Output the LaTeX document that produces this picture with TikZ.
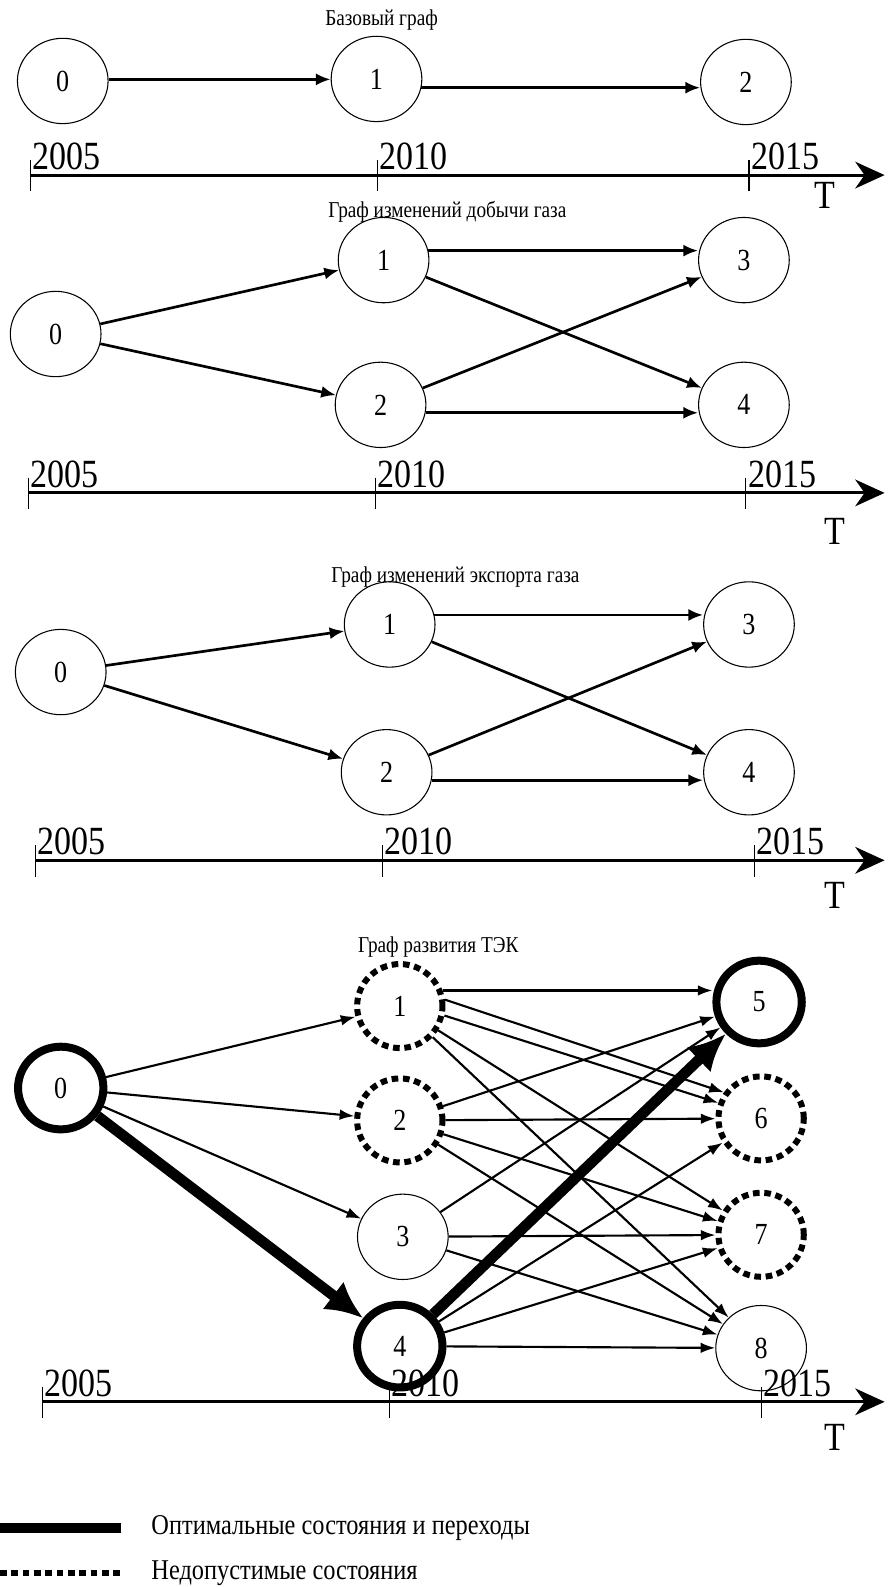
\documentclass[tikz,border=0pt]{standalone}
\usepackage{fontspec}
\setmainfont{Liberation Serif}
\newfontfamily\narrowserif[FakeStretch=0.85]{Liberation Serif}
\usetikzlibrary{shapes.geometric,arrows.meta}

\tikzset{
  state/.style={ellipse,draw,line width=.8pt,minimum width=68pt,minimum height=64pt,inner sep=0pt,
    font=\narrowserif\fontsize{23}{25}\selectfont},
  optstate/.style={state,line width=6pt,minimum width=64pt,minimum height=62pt},
  badstate/.style={state,line width=4.5pt,dash pattern=on 5pt off 3.5pt,minimum width=64pt,minimum height=63pt},
  edge/.style={line width=2pt,-{Latex[length=11pt,width=9pt]}},
  thinedge/.style={line width=1.6pt,-{Latex[length=11pt,width=8pt]}},
  optedge/.style={line width=8pt,-{Latex[length=28pt,width=26pt]}},
  timeline/.style={line width=2.2pt,-{Stealth[length=22pt,width=20pt,inset=7pt]}},
  tick/.style={line width=.8pt},
  year/.style={anchor=south west,inner sep=0pt,font=\narrowserif\fontsize{30}{32}\selectfont},
  title/.style={font=\narrowserif\fontsize{17}{19}\selectfont},
  legend/.style={anchor=west,font=\narrowserif\fontsize{21.5}{24}\selectfont},
}

\begin{document}
\begin{tikzpicture}[x=0.759pt,y=-0.759pt,line join=miter]
  \useasboundingbox (0,0) rectangle (882,1568);

  % Base graph
  \node[title] (t1) at (377,20) {Базовый граф};
  \node[state] (b0) at (62,80) {0};
  \node[state] (b1) at (372,78) {1};
  \node[state] (b2) at (737,81) {2};
  \draw[edge] (b0.2) -- (b0.2 -| b1.west);
  \draw[edge] (b1.-11) -- (b1.-11 -| b2.west);
  \draw[timeline] (30,173) -- (874,173);
  \foreach \x/\yr in {30/2005,373/2010,740/2015}
  {
    \draw[tick] (\x,158) -- (\x,189);
    \node[year] (ya\yr) at (\x+2,168) {\yr};
  }
  \node[year,anchor=center] (ta) at (815,193) {T};

  % Gas production graph
  \node[title] (t2) at (442,209) {Граф изменений добычи газа};
  \node[state] (g0) at (55,330) {0};
  \node[state] (g1) at (379,257) {1};
  \node[state] (g2) at (376,400) {2};
  \node[state] (g3) at (735,257) {3};
  \node[state] (g4) at (735,400) {4};
  \draw[edge] (g0) -- (g1);
  \draw[edge] (g0) -- (g2);
  \draw[edge] (g1.12) -- (g1.12 -| g3.west);
  \draw[edge] (g1) -- (g4);
  \draw[edge] (g2) -- (g3);
  \draw[edge] (g2.-10) -- (g2.-10 -| g4.west);
  \draw[timeline] (28,487) -- (874,487);
  \foreach \x/\yr in {28/2005,371/2010,737/2015}
  {
    \draw[tick] (\x,472) -- (\x,503);
    \node[year] (yb\yr) at (\x+2,482) {\yr};
  }
  \node[year,anchor=center] (tb) at (825,525) {T};

  % Gas export graph
  \node[title] (t3) at (450,570) {Граф изменений экспорта газа};
  \node[state] (e0) at (60,664) {0};
  \node[state] (e1) at (385,617) {1};
  \node[state] (e2) at (382,763) {2};
  \node[state] (e3) at (740,617) {3};
  \node[state] (e4) at (740,763) {4};
  \draw[edge] (e0) -- (e1);
  \draw[edge] (e0) -- (e2);
  \draw[edge] (e1.12) -- (e1.12 -| e3.west);
  \draw[edge] (e1) -- (e4);
  \draw[edge] (e2) -- (e3);
  \draw[edge] (e2.-10) -- (e2.-10 -| e4.west);
  \draw[timeline] (35,850) -- (874,850);
  \foreach \x/\yr in {35/2005,378/2010,745/2015}
  {
    \draw[tick] (\x,835) -- (\x,866);
    \node[year] (yc\yr) at (\x+2,845) {\yr};
  }
  \node[year,anchor=center] (tc) at (825,885) {T};

  % Fuel and energy complex graph
  \node[title] (t4) at (433,936) {Граф развития ТЭК};
  \node[optstate] (r0) at (60,1075) {0};
  \node[badstate] (r1) at (395,994) {1};
  \node[badstate] (r2) at (395,1107) {2};
  \node[state] (r3) at (398,1222) {3};
  \node[optstate] (r4) at (395,1330) {4};
  \node[optstate] (r5) at (750,990) {5};
  \node[badstate] (r6) at (752,1105) {6};
  \node[badstate] (r7) at (752,1220) {7};
  \node[state] (r8) at (752,1332) {8};
  \draw[thinedge] (r0) -- (r1);
  \draw[thinedge] (r0) -- (r2);
  \draw[thinedge] (r0) -- (r3);
  \draw[thinedge] (r1.20) -- (r1.20 -| r5.west);
  \draw[thinedge] (r1.8) -- (r6.145);
  \draw[thinedge] (r1.-12) -- (r6.160);
  \draw[thinedge] (r1) -- (r7);
  \draw[thinedge] (r1) -- (r8);
  \draw[thinedge] (r2) -- (r5);
  \draw[thinedge] (r2) -- (r6);
  \draw[thinedge] (r2) -- (r7);
  \draw[thinedge] (r2) -- (r8);
  \draw[thinedge] (r3) -- (r5);
  \draw[thinedge] (r3) -- (r7);
  \draw[thinedge] (r3) -- (r8);
  \draw[thinedge] (r4) -- (r6);
  \draw[thinedge] (r4) -- (r7);
  \draw[thinedge] (r4) -- (r8);
  \draw[optedge] (r0) -- (r4);
  \draw[optedge] (r4) -- (r5);
  \draw[timeline] (42,1385) -- (874,1385);
  \foreach \x/\yr in {42/2005,385/2010,752/2015}
  {
    \draw[tick] (\x,1370) -- (\x,1401);
    \node[year] (yd\yr) at (\x+2,1380) {\yr};
  }
  \node[year,anchor=center] (td) at (825,1420) {T};

  % Legend
  \draw[line width=7.5pt] (0,1510) -- (120,1510);
  \node[legend] (lgopt) at (145,1510) {Оптимальные состояния и переходы};
  \draw[line width=5pt,dash pattern=on 5pt off 3.5pt] (0,1554) -- (120,1554);
  \node[legend] (lgbad) at (145,1554) {Недопустимые состояния};
\end{tikzpicture}
\end{document}
